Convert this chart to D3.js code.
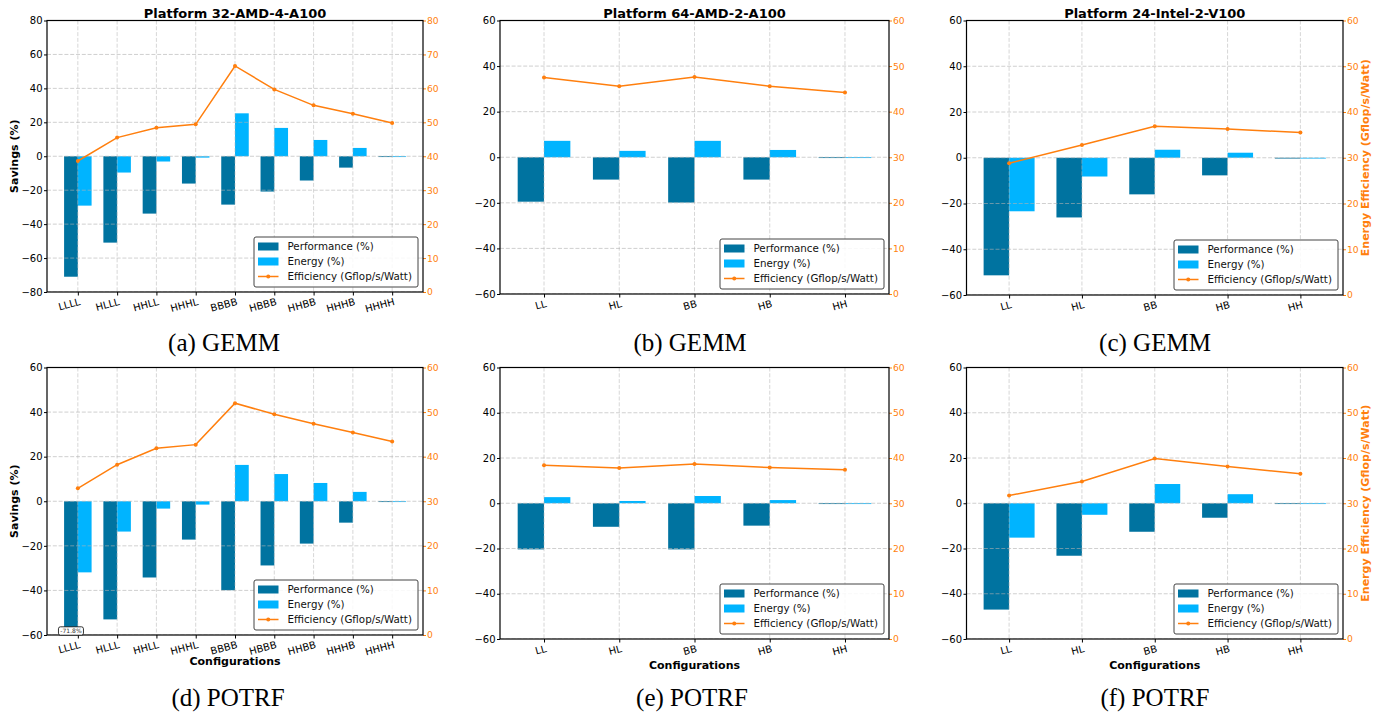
<!DOCTYPE html>
<html>
<head>
<meta charset="utf-8">
<script src="https://cdn.jsdelivr.net/npm/d3@7"></script>
<style>
  body { margin: 0; background: #fff; }
  svg { display: block; }
  text { font-family: "DejaVu Sans", sans-serif; }
</style>
</head>
<body>
<div id="wrapper"></div>
<script>

// categories
const configs4 = ["LLLL", "HLLL", "HHLL", "HHHL", "BBBB", "HBBB", "HHBB", "HHHB", "HHHH"];
const configs2 = ["LL", "HL", "BB", "HB", "HH"];

// GEMM, 32-AMD-4-A100
const gemmA4Perf = [-71.0, -50.9, -33.8, -16.1, -28.5, -20.8, -14.3, -6.7, -0.3];
const gemmA4Energy = [-29.1, -9.6, -3.1, -0.8, 25.3, 16.7, 9.6, 4.9, -0.2];
const gemmA4Eff = [38.6, 45.5, 48.4, 49.4, 66.6, 59.7, 55.0, 52.5, 49.8];

// GEMM, 64-AMD-2-A100
const gemmA2Perf = [-19.5, -9.8, -19.9, -9.8, -0.2];
const gemmA2Energy = [7.2, 2.8, 7.2, 3.2, -0.1];
const gemmA2Eff = [47.5, 45.6, 47.6, 45.6, 44.2];

// GEMM, 24-Intel-2-V100
const gemmIPerf = [-51.4, -26.1, -16.0, -7.7, -0.2];
const gemmIEnergy = [-23.4, -8.2, 3.5, 2.2, -0.1];
const gemmIEff = [28.8, 32.8, 36.9, 36.3, 35.5];

// POTRF, 32-AMD-4-A100
const potrfA4Perf = [-71.8, -53.0, -34.2, -17.2, -39.9, -28.8, -19.0, -9.6, -0.3];
const potrfA4Energy = [-31.9, -13.6, -3.3, -1.5, 16.3, 12.2, 8.2, 4.2, -0.2];
const potrfA4Eff = [32.9, 38.2, 41.9, 42.7, 52.0, 49.5, 47.4, 45.4, 43.4];

// POTRF, 64-AMD-2-A100
const potrfA2Perf = [-20.4, -10.4, -20.4, -9.9, -0.2];
const potrfA2Energy = [2.7, 1.0, 3.2, 1.4, -0.1];
const potrfA2Eff = [38.4, 37.8, 38.7, 37.9, 37.4];

// POTRF, 24-Intel-2-V100
const potrfIPerf = [-47.0, -23.2, -12.6, -6.4, -0.2];
const potrfIEnergy = [-15.2, -5.1, 8.5, 4.0, -0.1];
const potrfIEff = [31.7, 34.8, 39.9, 38.1, 36.5];

// tick values
const savingsTicks80 = [-80, -60, -40, -20, 0, 20, 40, 60, 80];
const savingsTicks60 = [-60, -40, -20, 0, 20, 40, 60];
const effTicks80 = [0, 10, 20, 30, 40, 50, 60, 70, 80];
const effTicks60 = [0, 10, 20, 30, 40, 50, 60];

const legendLabels = ["Performance (%)", "Energy (%)", "Efficiency (Gflop/s/Watt)"];

const perfColor = "#0073a0";
const energyColor = "#00b4ff";
const effColor = "#ff7f0e";

const panels = [
  { cats: configs4, perf: gemmA4Perf, energy: gemmA4Energy, eff: gemmA4Eff,
    yTicks: savingsTicks80, y2Ticks: effTicks80, title: "Platform 32-AMD-4-A100",
    caption: "(a) GEMM", left: 47, right: 423, top: 20.5, bottom: 292, capX: 224, capY: 351,
    yLabel: true },
  { cats: configs2, perf: gemmA2Perf, energy: gemmA2Energy, eff: gemmA2Eff,
    yTicks: savingsTicks60, y2Ticks: effTicks60, title: "Platform 64-AMD-2-A100",
    caption: "(b) GEMM", left: 500, right: 889, top: 20.5, bottom: 294, capX: 690, capY: 351 },
  { cats: configs2, perf: gemmIPerf, energy: gemmIEnergy, eff: gemmIEff,
    yTicks: savingsTicks60, y2Ticks: effTicks60, title: "Platform 24-Intel-2-V100",
    caption: "(c) GEMM", left: 966.5, right: 1343, top: 20.5, bottom: 295, capX: 1155, capY: 351,
    y2Label: true },
  { cats: configs4, perf: potrfA4Perf, energy: potrfA4Energy, eff: potrfA4Eff,
    yTicks: savingsTicks60, y2Ticks: effTicks60,
    caption: "(d) POTRF", left: 47, right: 423, top: 367.5, bottom: 635, capX: 228, capY: 706,
    yLabel: true, xLabel: true, clipNote: true },
  { cats: configs2, perf: potrfA2Perf, energy: potrfA2Energy, eff: potrfA2Eff,
    yTicks: savingsTicks60, y2Ticks: effTicks60,
    caption: "(e) POTRF", left: 500, right: 889, top: 367.5, bottom: 639, capX: 692, capY: 706,
    xLabel: true },
  { cats: configs2, perf: potrfIPerf, energy: potrfIEnergy, eff: potrfIEff,
    yTicks: savingsTicks60, y2Ticks: effTicks60,
    caption: "(f) POTRF", left: 966.5, right: 1343, top: 367.5, bottom: 639, capX: 1155, capY: 706,
    xLabel: true, y2Label: true }
];

const wrapper = d3.select("#wrapper")
  .append("svg")
  .attr("width", 1387)
  .attr("height", 713)

const minusFmt = d => d < 0 ? "\u2212" + Math.abs(d) : String(d);

function drawPanel(p, idx) {
  const w = p.right - p.left;
  const h = p.bottom - p.top;
  const n = p.cats.length;
  const barW = 0.35;
  const pad = 0.05 * (n - 1 + 2 * barW);

  const xScale = d3.scaleLinear()
    .domain([-barW - pad, n - 1 + barW + pad])
    .range([0, w]);
  const yScale = d3.scaleLinear()
    .domain(d3.extent(p.yTicks))
    .range([h, 0]);
  const y2Scale = d3.scaleLinear()
    .domain(d3.extent(p.y2Ticks))
    .range([h, 0]);

  const bounds = wrapper.append("g")
    .attr("transform", `translate(${p.left},${p.top})`);

  const clipId = "clip" + idx;
  bounds.append("clipPath").attr("id", clipId)
    .append("rect").attr("width", w).attr("height", h);

  const plot = bounds.append("g").attr("clip-path", `url(#${clipId})`);

  // bars
  plot.selectAll(".perf")
    .data(p.perf)
    .join("rect")
    .attr("x", (d, i) => xScale(i - barW))
    .attr("width", (d, i) => xScale(i) - xScale(i - barW))
    .attr("y", d => yScale(Math.max(0, d)))
    .attr("height", d => Math.max(0.8, Math.abs(yScale(d) - yScale(0))))
    .attr("fill", perfColor);

  plot.selectAll(".energy")
    .data(p.energy)
    .join("rect")
    .attr("x", (d, i) => xScale(i))
    .attr("width", (d, i) => xScale(i + barW) - xScale(i))
    .attr("y", d => yScale(Math.max(0, d)))
    .attr("height", d => Math.max(0.8, Math.abs(yScale(d) - yScale(0))))
    .attr("fill", energyColor);

  // grid (drawn above bars, like matplotlib)
  plot.selectAll(".hgrid")
    .data(p.yTicks)
    .join("line")
    .attr("x1", 0).attr("x2", w)
    .attr("y1", d => yScale(d)).attr("y2", d => yScale(d))
    .attr("stroke", "#b0b0b0")
    .attr("stroke-opacity", 0.6)
    .attr("stroke-width", 1)
    .attr("stroke-dasharray", "4,1.8");

  plot.selectAll(".vgrid")
    .data(p.cats)
    .join("line")
    .attr("x1", (d, i) => xScale(i)).attr("x2", (d, i) => xScale(i))
    .attr("y1", 0).attr("y2", h)
    .attr("stroke", "#b0b0b0")
    .attr("stroke-opacity", 0.5)
    .attr("stroke-width", 1)
    .attr("stroke-dasharray", "4,1.8");

  // efficiency line
  const lineGen = d3.line()
    .x((d, i) => xScale(i))
    .y(d => y2Scale(d));

  plot.append("path")
    .datum(p.eff)
    .attr("d", lineGen)
    .attr("fill", "none")
    .attr("stroke", effColor)
    .attr("stroke-width", 1.5);

  plot.selectAll(".dot")
    .data(p.eff)
    .join("circle")
    .attr("cx", (d, i) => xScale(i))
    .attr("cy", d => y2Scale(d))
    .attr("r", 2)
    .attr("fill", effColor);

  // axes
  const yAxis = bounds.append("g")
    .call(d3.axisLeft(yScale).tickValues(p.yTicks).tickFormat(minusFmt)
      .tickSize(3).tickSizeOuter(0).tickPadding(1.5));
  yAxis.select(".domain").remove();
  yAxis.selectAll("text").attr("font-size", 10).attr("fill", "#000")
    .style("font-family", "DejaVu Sans");

  const y2Axis = bounds.append("g")
    .attr("transform", `translate(${w},0)`)
    .call(d3.axisRight(y2Scale).tickValues(p.y2Ticks)
      .tickSize(3).tickSizeOuter(0).tickPadding(1));
  y2Axis.select(".domain").remove();
  y2Axis.selectAll("line").attr("stroke", effColor);
  y2Axis.selectAll("text").attr("font-size", 9.2).attr("fill", effColor)
    .style("font-family", "DejaVu Sans");

  const xAxis = bounds.append("g")
    .attr("transform", `translate(0,${h})`)
    .call(d3.axisBottom(xScale).tickValues(d3.range(n)).tickFormat("")
      .tickSize(3.5).tickSizeOuter(0));
  xAxis.select(".domain").remove();

  bounds.selectAll(".xlab")
    .data(p.cats)
    .join("text")
    .attr("transform", (d, i) => `translate(${xScale(i) + 1},${h + 5}) rotate(-15)`)
    .attr("text-anchor", "end")
    .attr("dy", "0.8em")
    .attr("font-size", 10)
    .text(d => d);

  // frame
  bounds.append("rect")
    .attr("width", w).attr("height", h)
    .attr("fill", "none")
    .attr("stroke", "#000")
    .attr("stroke-width", 1.2);

  // clipped value note
  if (p.clipNote) {
    const v = p.perf[0];
    const cx = xScale(-barW / 2);
    const note = bounds.append("g")
      .attr("transform", `translate(${cx},${yScale(p.yTicks[0]) - 4})`);
    note.append("rect")
      .attr("x", -12.5).attr("y", -4.2).attr("width", 25).attr("height", 8.4)
      .attr("rx", 2).attr("fill", "#fff").attr("stroke", "#000").attr("stroke-width", 0.8);
    note.append("text")
      .attr("text-anchor", "middle").attr("dy", "0.35em")
      .attr("font-size", 6).attr("fill", "#333")
      .text(v.toFixed(1) + "%");
  }

  // legend
  const lw = 164, lh = 50;
  const legend = bounds.append("g")
    .attr("transform", `translate(${w - 5 - lw},${h - 5 - lh})`);
  legend.append("rect")
    .attr("width", lw).attr("height", lh).attr("rx", 2)
    .attr("fill", "#fff").attr("fill-opacity", 0.85)
    .attr("stroke", "#444").attr("stroke-width", 1);
  const rows = [9.5, 24.5, 39.5];
  legend.append("rect").attr("x", 4).attr("y", rows[0] - 4).attr("width", 20.5).attr("height", 8).attr("fill", perfColor);
  legend.append("rect").attr("x", 4).attr("y", rows[1] - 4).attr("width", 20.5).attr("height", 8).attr("fill", energyColor);
  legend.append("line").attr("x1", 4).attr("x2", 24.5).attr("y1", rows[2]).attr("y2", rows[2])
    .attr("stroke", effColor).attr("stroke-width", 1.5);
  legend.append("circle").attr("cx", 14.25).attr("cy", rows[2]).attr("r", 2).attr("fill", effColor);
  legend.selectAll(".ltext")
    .data(legendLabels)
    .join("text")
    .attr("x", 33.5)
    .attr("y", (d, i) => rows[i])
    .attr("dy", "0.35em")
    .attr("font-size", 10.3)
    .attr("fill", "#111")
    .text(d => d);

  // titles and labels
  if (p.title) {
    bounds.append("text")
      .attr("x", w / 2).attr("y", -3)
      .attr("text-anchor", "middle")
      .attr("font-size", 13).attr("font-weight", "bold")
      .text(p.title);
  }
  if (p.yLabel) {
    bounds.append("text")
      .attr("transform", `translate(${14 - p.left},${h / 2}) rotate(-90)`)
      .attr("text-anchor", "middle").attr("dy", "0.35em")
      .attr("font-size", 11).attr("font-weight", "bold")
      .text("Savings (%)");
  }
  if (p.y2Label) {
    bounds.append("text")
      .attr("transform", `translate(${w + 22},${h / 2}) rotate(-90)`)
      .attr("text-anchor", "middle").attr("dy", "0.35em")
      .attr("font-size", 11).attr("font-weight", "bold")
      .attr("fill", effColor)
      .text("Energy Efficiency (Gflop/s/Watt)");
  }
  if (p.xLabel) {
    bounds.append("text")
      .attr("x", w / 2).attr("y", h + 30)
      .attr("text-anchor", "middle")
      .attr("font-size", 11).attr("font-weight", "bold")
      .text("Configurations");
  }

  wrapper.append("text")
    .attr("x", p.capX).attr("y", p.capY)
    .attr("text-anchor", "middle")
    .style("font-family", "'Liberation Serif', 'Times New Roman', serif")
    .attr("font-size", 25)
    .text(p.caption);
}

panels.forEach(drawPanel);

</script>
</body>
</html>
